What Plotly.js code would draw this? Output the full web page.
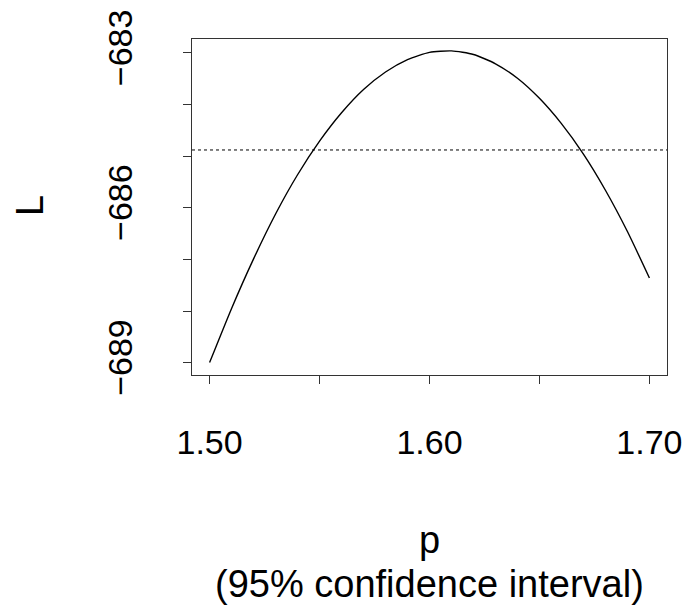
<!DOCTYPE html>
<html>
<head>
<meta charset="utf-8">
<script src="https://cdn.plot.ly/plotly-3.0.1.min.js"></script>
<style>html,body{margin:0;padding:0;background:#fff;}#chart{width:692px;height:607px;}</style>
</head>
<body>
<div id="chart"></div>
<script>
// Profile log-likelihood L over p
const p = [1.50, 1.51, 1.52, 1.53, 1.54, 1.55, 1.56, 1.57, 1.58, 1.59, 1.60,
           1.61, 1.62, 1.63, 1.64, 1.65, 1.66, 1.67, 1.68, 1.69, 1.70];
const L = [-689.00, -687.95, -686.99, -686.12, -685.36, -684.71, -684.16, -683.71, -683.37, -683.13, -682.99,
           -682.96, -683.03, -683.21, -683.49, -683.88, -684.37, -684.96, -685.66, -686.46, -687.36];
// 95% CI cutoff line
const cutoff = -684.88;

const xTickVals = [1.50, 1.55, 1.60, 1.65, 1.70];
const xTickText = ["1.50", "", "1.60", "", "1.70"];
const yTickVals = [-689, -688, -687, -686, -685, -684, -683];
const yTickText = ["\u2212689", "", "", "\u2212686", "", "", "\u2212683"];

const xTitle1 = "p";
const xTitle2 = "(95% confidence interval)";
const yTitle = "L";

const font = {family: "Liberation Sans, Arial, sans-serif", size: 34, color: "#000"};
const titleFont = {family: "Liberation Sans, Arial, sans-serif", size: 38, color: "#000"};

const traces = [{
  x: p, y: L, type: "scatter", mode: "lines",
  line: {color: "#000", width: 1.4, shape: "spline", smoothing: 0.6},
  hoverinfo: "skip"
}];

const layout = {
  width: 692, height: 607,
  margin: {l: 192, r: 25, t: 39, b: 232},
  paper_bgcolor: "#fff", plot_bgcolor: "#fff",
  showlegend: false,
  font: font,
  xaxis: {
    range: [1.492, 1.708],
    tickvals: xTickVals, ticktext: xTickText,
    ticks: "outside", ticklen: 8, tickwidth: 1, tickcolor: "#333",
    showline: true, linecolor: "#333", linewidth: 1, mirror: true,
    showgrid: false, zeroline: false,
    tickfont: font, tickangle: 0,
    ticklabelstandoff: 29
  },
  yaxis: {
    range: [-689.24, -682.73],
    tickvals: yTickVals, ticktext: yTickText,
    ticks: "outside", ticklen: 8, tickwidth: 1, tickcolor: "#333",
    showline: true, linecolor: "#333", linewidth: 1, mirror: true,
    showgrid: false, zeroline: false,
    tickfont: font, tickangle: -90,
    ticklabelstandoff: 37
  },
  shapes: [{
    type: "line", xref: "paper", x0: 0, x1: 1, yref: "y", y0: cutoff, y1: cutoff,
    line: {color: "#000", width: 1, dash: "dot"}
  }],
  annotations: [
    {text: yTitle, xref: "paper", yref: "paper", x: -0.341, y: 0.503,
     xanchor: "center", yanchor: "middle", textangle: -90, showarrow: false, font: titleFont},
    {text: xTitle1, xref: "paper", yref: "paper", x: 0.501, y: -0.49,
     xanchor: "center", yanchor: "middle", showarrow: false, font: titleFont},
    {text: xTitle2, xref: "paper", yref: "paper", x: 0.501, y: -0.6875,
     xanchor: "center", yanchor: "bottom", showarrow: false, font: titleFont, borderpad: 0}
  ]
};

Plotly.newPlot("chart", traces, layout, {staticPlot: true, displayModeBar: false});
</script>
</body>
</html>
